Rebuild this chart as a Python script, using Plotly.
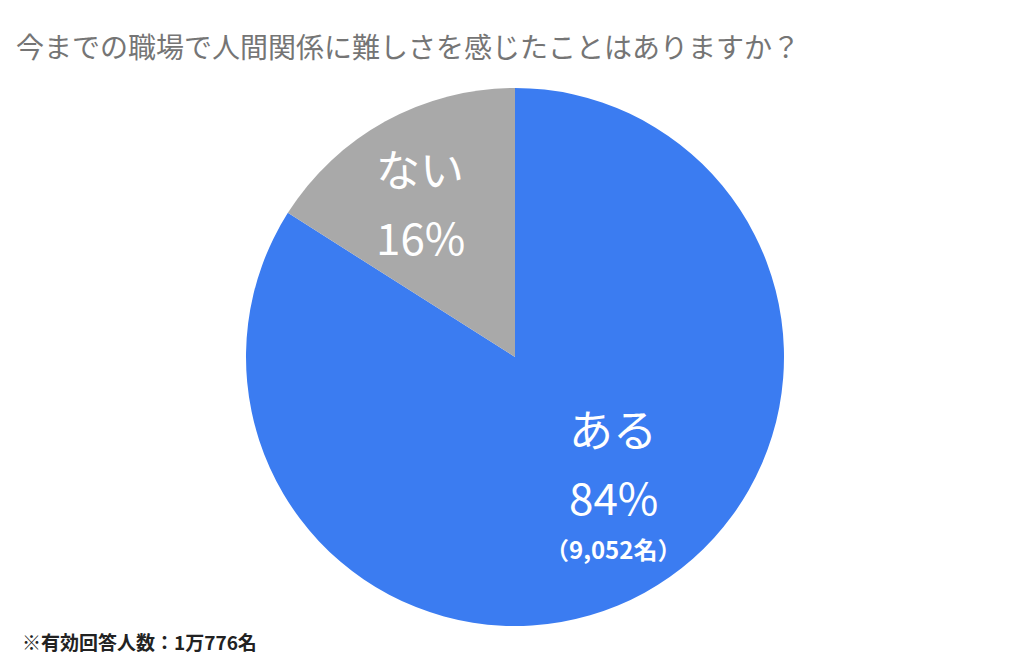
import plotly.graph_objects as go

labels = ["ある", "ない"]
values = [84, 16]
colors = ["#3B7CF1", "#A9A9A9"]
counts_note = "（9,052名）"
title = "今までの職場で人間関係に難しさを感じたことはありますか？"
footnote = "※有効回答人数：1万776名"

W, H = 1023, 654
fig = go.Figure(go.Pie(
    labels=labels, values=values, sort=False, direction="clockwise", rotation=0,
    marker=dict(colors=colors, line=dict(width=0)), textinfo="none", hoverinfo="label+percent",
    domain=dict(x=[237/W, 777/W], y=[1-618/H, 1-80/H]), showlegend=False))

font = "Noto Sans CJK JP"
def ann(x, y, text, size, color="white", bold=False, anchor="center"):
    t = f"<b>{text}</b>" if bold else text
    fig.add_annotation(x=x/W, y=1-y/H, xref="paper", yref="paper", text=t, showarrow=False,
                       xanchor=anchor, yanchor="middle", font=dict(family=font, size=size, color=color))

ann(412, 160, labels[1], 44)
ann(412, 228, f"{values[1]}%", 44)
ann(605, 420, labels[0], 44)
ann(605, 488, f"{values[0]}%", 44)
ann(605, 540, counts_note, 24, bold=True)
ann(6, 38, title, 28, color="#757575", anchor="left")
ann(12, 633, footnote, 19, color="#222222", bold=True, anchor="left")

fig.update_layout(width=W, height=H, margin=dict(l=0, r=0, t=0, b=0),
                  paper_bgcolor="white", plot_bgcolor="white")
fig.write_html("out.html")
